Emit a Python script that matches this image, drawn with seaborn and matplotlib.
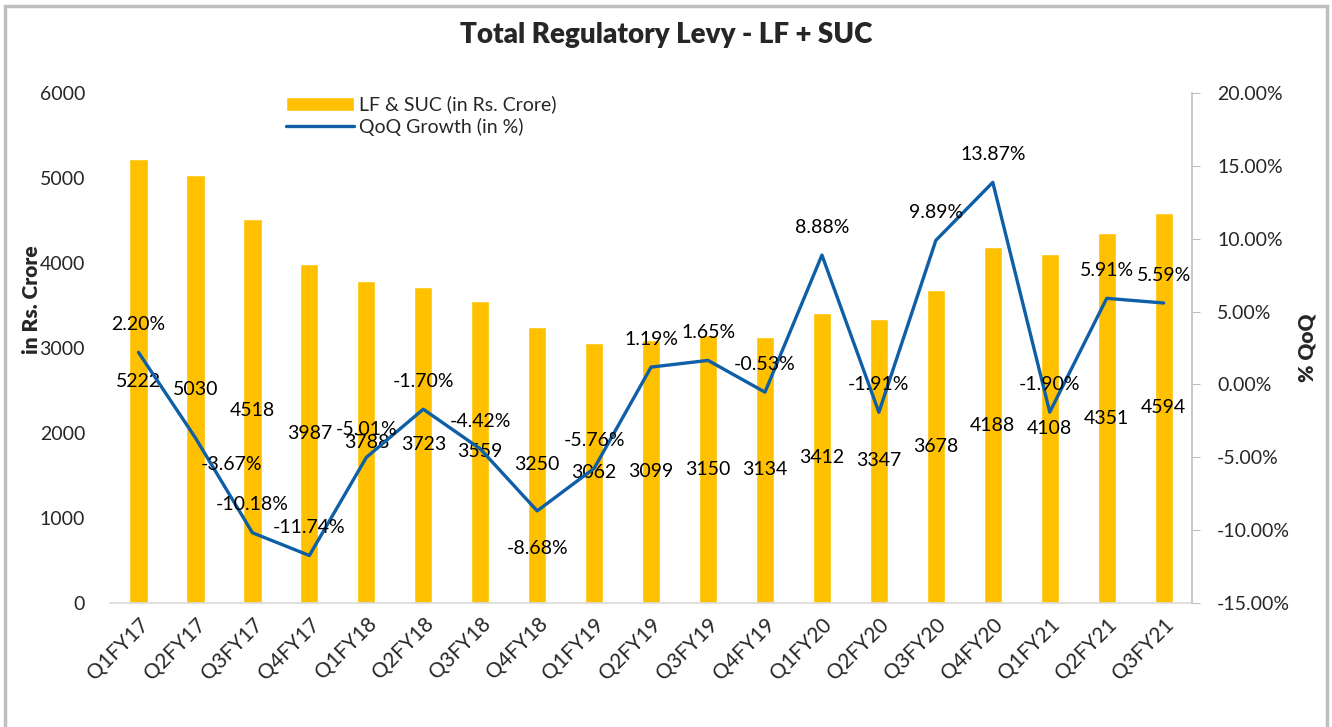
import matplotlib
matplotlib.use("Agg")
import matplotlib.pyplot as plt
import matplotlib.ticker as mtick
import pandas as pd
import seaborn as sns

# Chart data
quarters = ['Q1FY17', 'Q2FY17', 'Q3FY17', 'Q4FY17', 'Q1FY18', 'Q2FY18', 'Q3FY18', 'Q4FY18',
            'Q1FY19', 'Q2FY19', 'Q3FY19', 'Q4FY19', 'Q1FY20', 'Q2FY20', 'Q3FY20', 'Q4FY20',
            'Q1FY21', 'Q2FY21', 'Q3FY21']
levy = [5222, 5030, 4518, 3987, 3788, 3723, 3559, 3250, 3062, 3099, 3150, 3134,
        3412, 3347, 3678, 4188, 4108, 4351, 4594]
growth = [2.20, -3.67, -10.18, -11.74, -5.01, -1.70, -4.42, -8.68, -5.76, 1.19, 1.65, -0.53,
          8.88, -1.91, 9.89, 13.87, -1.90, 5.91, 5.59]

df = pd.DataFrame({'quarter': quarters, 'levy': levy, 'growth': growth})
df['pos'] = range(len(df))

sns.set_style("white")
plt.rcParams['font.family'] = ['Lato', 'DejaVu Sans']

BAR = '#FFC000'
LINE = '#0F5FA6'
FS = 14

fig = plt.figure(figsize=(13.32, 7.27), dpi=100)
ax = fig.add_axes([0.0826, 0.1706, 0.8124, 0.7014])

sns.barplot(data=df, x='quarter', y='levy', color=BAR, width=0.32, saturation=1,
            ax=ax, label='LF & SUC (in Rs. Crore)', legend=False)
ax.set_xlim(-0.5, len(df) - 0.5)
ax.set_ylim(0, 6000)
ax.set_yticks(range(0, 6001, 1000))
ax.tick_params(axis='y', length=0, labelsize=FS, pad=18)
ax.tick_params(axis='x', length=0, labelsize=15, pad=8)
plt.setp(ax.get_xticklabels(), rotation=45, ha='right', rotation_mode='anchor')
for s in ['top', 'left', 'right']:
    ax.spines[s].set_visible(False)
ax.spines['bottom'].set_color('#D9D9D9')
ax.spines['bottom'].set_linewidth(1.2)
ax.set_xlabel('')
ax.set_ylabel('in Rs. Crore', fontsize=15, fontweight='heavy')
ax.yaxis.set_label_coords(-0.064, 0.594)

# value labels in the middle of bars
for i, v in enumerate(levy):
    ax.text(i, v / 2, str(v), ha='center', va='center', fontsize=FS, color='black')

# growth line on secondary axis
ax2 = ax.twinx()
sns.lineplot(data=df, x='pos', y='growth', color=LINE, linewidth=2.4, ax=ax2,
             label='QoQ Growth (in %)', legend=False)
ax2.set_ylim(-15, 20)
ax2.set_yticks(range(-15, 21, 5))
ax2.yaxis.set_major_formatter(mtick.FuncFormatter(lambda v, p: f'{v:.2f}%'))
ax2.tick_params(axis='y', length=6, color='#BFBFBF', labelsize=FS, pad=12)
for s in ['top', 'left', 'bottom']:
    ax2.spines[s].set_visible(False)
ax2.spines['right'].set_color('#BFBFBF')
ax2.spines['right'].set_linewidth(1.2)
ax2.set_ylabel('% QoQ', fontsize=15, fontweight='heavy', rotation=90)
ax2.yaxis.set_label_coords(1.097, 0.5)
ax2.set_xlabel('')

# growth labels: most sit above the point, a couple below
offsets = {1: (26, -19), 7: (0, -27)}
for i, g in enumerate(growth):
    dx, dy = offsets.get(i, (0, 20))
    ax2.annotate(f'{g:.2f}%', (i, g), xytext=(dx, dy), textcoords='offset points',
                 ha='center', va='center', fontsize=FS, color='black')

# legend
h1, l1 = ax.get_legend_handles_labels()
h2, l2 = ax2.get_legend_handles_labels()
ax2.legend(h1 + h2, l1 + l2, loc='upper left', bbox_to_anchor=(0.155, 1.01),
           frameon=False, fontsize=FS, handlelength=3.5, handletextpad=0.3,
           labelspacing=0.2, borderaxespad=0)

fig.suptitle('Total Regulatory Levy - LF + SUC', fontsize=20, fontweight='heavy', y=0.97)

# outer border of chart
border = plt.Rectangle((0.004, -0.05), 0.992, 1.042, transform=fig.transFigure,
                       fill=False, edgecolor='#BFBFBF', linewidth=2.5)
fig.patches.append(border)

fig.savefig('out.png', dpi=100)
